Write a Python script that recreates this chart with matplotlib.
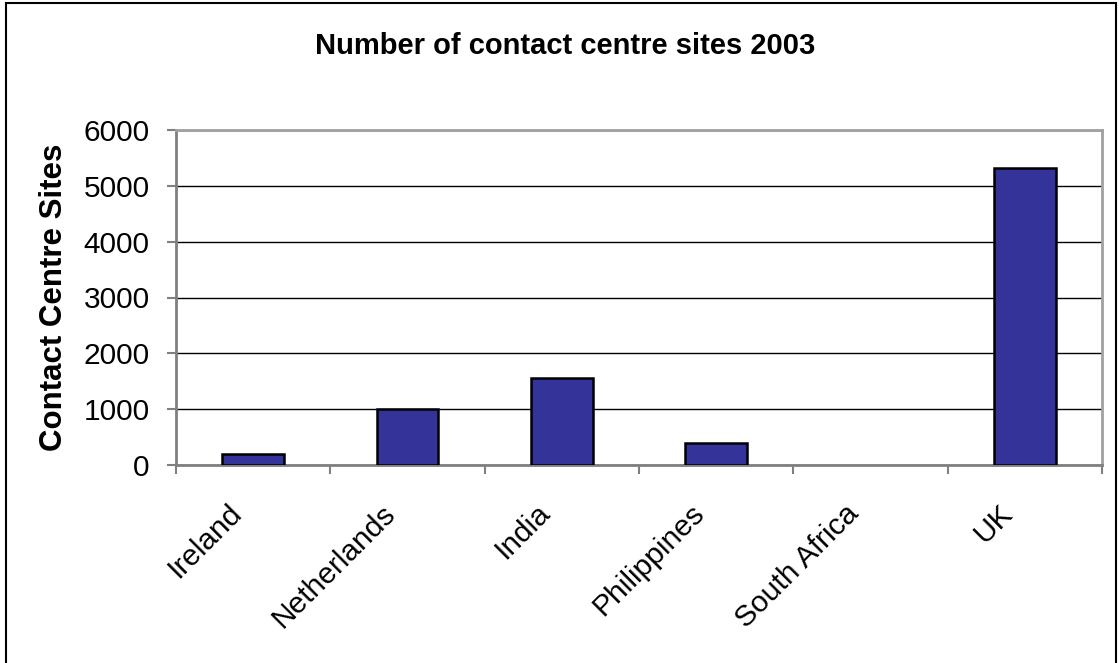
import numpy as np
import matplotlib.pyplot as plt
from matplotlib.patches import Rectangle
from matplotlib.transforms import ScaledTranslation

countries = ['Ireland', 'Netherlands', 'India', 'Philippines', 'South Africa', 'UK']
sites = [190, 1000, 1560, 400, 0, 5320]
yticks = [0, 1000, 2000, 3000, 4000, 5000, 6000]

plt.rcParams['font.family'] = ['Liberation Sans', 'DejaVu Sans']

fig = plt.figure(figsize=(11.2, 6.63), dpi=100)
ax = fig.add_axes([176 / 1120, 1 - 465 / 663, (1102 - 176) / 1120, (465 - 130) / 663])

x = np.arange(len(countries))
edges = ['black' if v > 0 else 'none' for v in sites]
ax.bar(x, sites, width=0.4, color='#333399', edgecolor=edges, linewidth=1.8, zorder=3)

ax.set_xlim(-0.5, len(countries) - 0.5)
ax.set_ylim(0, 6000)
ax.set_yticks(yticks)
ax.set_yticklabels([str(v) for v in yticks], fontsize=21.5)
ax.yaxis.grid(True, color='black', linewidth=1.0, zorder=0)

# ticks between categories, labels at centres
ax.set_xticks(np.arange(len(countries) + 1) - 0.5)
ax.set_xticklabels([])
ax.set_xticks(x, minor=True)
ax.set_xticklabels(countries, minor=True, fontsize=21.5, rotation=45,
                   ha='right', va='top', rotation_mode='anchor')
ax.tick_params(axis='x', which='minor', length=0, pad=24.5)
ax.tick_params(axis='x', which='major', length=6.5, width=1.5, color='#808080', direction='out')
ax.tick_params(axis='y', length=6.5, width=1.5, color='#808080', direction='out', pad=12.5)
for lbl in ax.get_xticklabels(minor=True):
    lbl.set_transform(lbl.get_transform() + ScaledTranslation(-26 / 100, 0, fig.dpi_scale_trans))

for s in ['left', 'bottom']:
    ax.spines[s].set_color('#808080')
    ax.spines[s].set_linewidth(2)
for s in ['top', 'right']:
    ax.spines[s].set_color('#a0a0a0')
    ax.spines[s].set_linewidth(2)

ax.set_ylabel('Contact Centre Sites', fontsize=22.5, fontweight='bold', labelpad=10.5)
fig.text(565 / 1120, 1 - 46 / 663, 'Number of contact centre sites 2003',
         fontsize=21, fontweight='bold', ha='center', va='center')

fig.patches.append(Rectangle((6 / 1120, -0.01), 1110 / 1120, 1 - 3 / 663 + 0.01,
                             transform=fig.transFigure, fill=False,
                             edgecolor='black', linewidth=1.5))

fig.savefig('out.png', dpi=100)
